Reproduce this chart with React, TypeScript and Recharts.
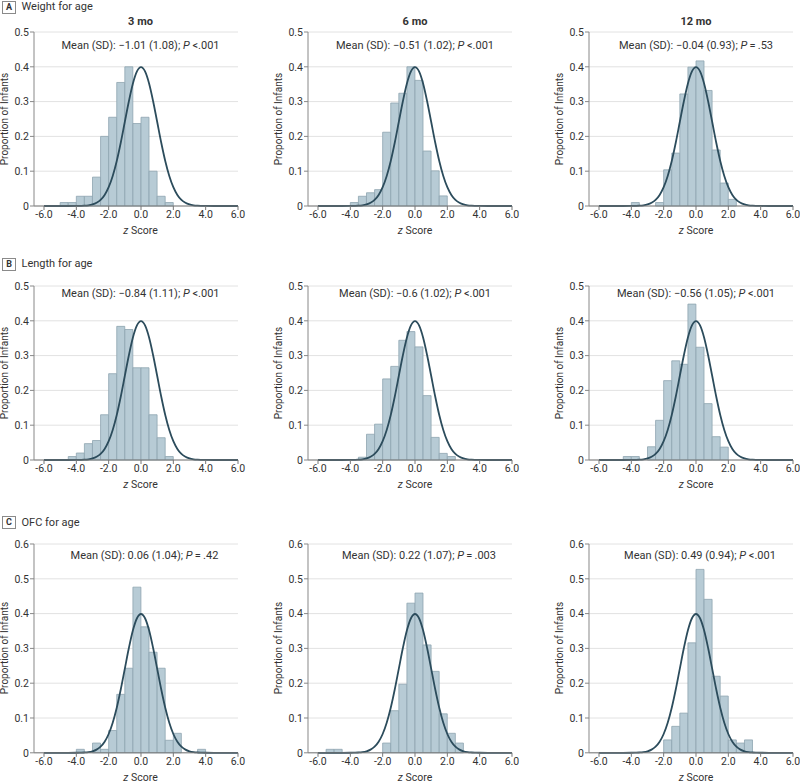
import React from 'react';
import { ComposedChart, Bar, Line, XAxis, YAxis, CartesianGrid } from 'recharts';

// z-score bins, 0.5 wide, from -6.0 to 6.0 (value = start of bin)
const BIN_STARTS = [
    -6, -5.5, -5, -4.5, -4, -3.5, -3, -2.5, -2, -1.5, -1, -0.5,
    0, 0.5, 1, 1.5, 2, 2.5, 3, 3.5, 4, 4.5, 5, 5.5,
];
const X_TICKS = [-6, -4, -2, 0, 2, 4, 6];
const Y_TICKS_AB = [0, 0.1, 0.2, 0.3, 0.4, 0.5];
const Y_TICKS_C = [0, 0.1, 0.2, 0.3, 0.4, 0.5, 0.6];

// proportion of infants per bin
const WEIGHT_3MO = [0, 0, 0.01, 0.01, 0.028, 0.028, 0.083, 0.2, 0.255, 0.355, 0.4, 0.237, 0.255, 0.1, 0.028, 0.01, 0, 0, 0, 0, 0, 0, 0, 0];
const WEIGHT_6MO = [0, 0, 0, 0, 0.01, 0.028, 0.038, 0.047, 0.212, 0.296, 0.324, 0.4, 0.361, 0.158, 0.101, 0.029, 0, 0, 0, 0, 0, 0, 0, 0];
const WEIGHT_12MO = [0, 0, 0, 0, 0.01, 0, 0, 0.01, 0.104, 0.152, 0.322, 0.399, 0.417, 0.332, 0.161, 0.066, 0.019, 0, 0, 0, 0, 0, 0, 0];
const LENGTH_3MO = [0, 0, 0, 0.01, 0.02, 0.047, 0.056, 0.13, 0.248, 0.384, 0.375, 0.265, 0.265, 0.13, 0.064, 0.01, 0, 0, 0, 0, 0, 0, 0, 0];
const LENGTH_6MO = [0, 0, 0, 0, 0, 0.008, 0.074, 0.103, 0.233, 0.269, 0.344, 0.369, 0.325, 0.185, 0.065, 0.019, 0.01, 0, 0, 0, 0, 0, 0, 0];
const LENGTH_12MO = [0, 0, 0, 0.01, 0.01, 0, 0.038, 0.114, 0.228, 0.285, 0.275, 0.448, 0.324, 0.162, 0.067, 0.037, 0, 0, 0, 0, 0, 0, 0, 0];
const OFC_3MO = [0, 0, 0, 0, 0.01, 0, 0.028, 0.01, 0.064, 0.168, 0.243, 0.476, 0.362, 0.289, 0.243, 0.036, 0.056, 0, 0, 0.01, 0, 0, 0, 0];
const OFC_6MO = [0, 0.01, 0.01, 0, 0, 0, 0, 0, 0.028, 0.121, 0.197, 0.43, 0.459, 0.31, 0.234, 0.112, 0.056, 0.028, 0, 0, 0, 0, 0, 0];
const OFC_12MO = [0, 0, 0, 0, 0, 0, 0, 0, 0.037, 0.076, 0.114, 0.316, 0.527, 0.441, 0.22, 0.163, 0.037, 0.028, 0.037, 0, 0, 0, 0, 0];

// reference standard normal curve
const CURVE_X = [-6, -5, -4, -3.75, -3.5, -3.25, -3, -2.75, -2.5, -2.25, -2, -1.75, -1.5, -1.25, -1, -0.75, -0.5, -0.25,
    0, 0.25, 0.5, 0.75, 1, 1.25, 1.5, 1.75, 2, 2.25, 2.5, 2.75, 3, 3.25, 3.5, 3.75, 4, 5, 6];
const CURVE_Y = [0, 0, 0.0001, 0.0004, 0.0009, 0.002, 0.0044, 0.0091, 0.0175, 0.0317, 0.054, 0.0863, 0.1295, 0.1826, 0.242, 0.3011, 0.3521, 0.3867,
    0.3989, 0.3867, 0.3521, 0.3011, 0.242, 0.1826, 0.1295, 0.0863, 0.054, 0.0317, 0.0175, 0.0091, 0.0044, 0.002, 0.0009, 0.0004, 0.0001, 0, 0];

const AGES = ['3 mo', '6 mo', '12 mo'];

const FONT = 'Roboto, "Noto Sans", sans-serif';
const TEXT = '#333';
const BAR_FILL = '#b7cbd5';
const BAR_STROKE = '#8ea5b0';
const CURVE_COLOR = '#2c4c5c';

const COL_LEFT = [33.5, 308, 589];
const ROW_TOP = [32.3, 285.7, 544];
const PLOT_W = 204;
const PAD = 10;
const PX_PER_TENTH = 34.8;
const Y_AXIS_W = 34;
const M_TOP = 10;
const M_RIGHT = 8;
const X_AXIS_H = 24;

const ROWS = [
    {
        letter: 'A', title: 'Weight for age', yMax: 0.5, yTicks: Y_TICKS_AB, meanY: 46, meanDx: 0,
        panels: [
            { values: WEIGHT_3MO, stat: '\u22121.01 (1.08)', p: ' <.001' },
            { values: WEIGHT_6MO, stat: '\u22120.51 (1.02)', p: ' <.001' },
            { values: WEIGHT_12MO, stat: '\u22120.04 (0.93)', p: '\u2009=\u2009.53' },
        ],
    },
    {
        letter: 'B', title: 'Length for age', yMax: 0.5, yTicks: Y_TICKS_AB, meanY: 294.3, meanDx: 0,
        panels: [
            { values: LENGTH_3MO, stat: '\u22120.84 (1.11)', p: ' <.001' },
            { values: LENGTH_6MO, stat: '\u22120.6 (1.02)', p: ' <.001' },
            { values: LENGTH_12MO, stat: '\u22120.56 (1.05)', p: ' <.001' },
        ],
    },
    {
        letter: 'C', title: 'OFC for age', yMax: 0.6, yTicks: Y_TICKS_C, meanY: 556, meanDx: 4,
        panels: [
            { values: OFC_3MO, stat: '0.06 (1.04)', p: '\u2009=\u2009.42' },
            { values: OFC_6MO, stat: '0.22 (1.07)', p: '\u2009=\u2009.003' },
            { values: OFC_12MO, stat: '0.49 (0.94)', p: ' <.001' },
        ],
    },
];

const curveData = CURVE_X.map((x, i) => ({ x, y: CURVE_Y[i] }));

const abs = (left: number, top: number, extra: React.CSSProperties = {}): React.CSSProperties => ({
    position: 'absolute', left, top, fontFamily: FONT, color: TEXT, whiteSpace: 'nowrap', ...extra,
});

function Histogram({ left, top, yMax, yTicks, values }: { left: number; top: number; yMax: number; yTicks: number[]; values: number[] }) {
    const plotH = yMax * 10 * PX_PER_TENTH;
    const data = BIN_STARTS.map((b, i) => ({ bin: b, v: values[i] > 0 ? values[i] : null }));
    const tick = { fontSize: 10.5, fill: TEXT, fontFamily: FONT };
    return (
        <div style={{ position: 'absolute', left: left - Y_AXIS_W, top: top - M_TOP }}>
            <ComposedChart
                width={Y_AXIS_W + PLOT_W + M_RIGHT}
                height={M_TOP + plotH + X_AXIS_H}
                data={data}
                margin={{ top: M_TOP, right: M_RIGHT, left: 0, bottom: 0 }}
                barCategoryGap={0}
                barGap={0}
            >
                <CartesianGrid vertical={false} stroke="#e2e2e2" xAxisId="num" />
                <XAxis
                    xAxisId="num"
                    dataKey="x"
                    type="number"
                    domain={[-6, 6]}
                    ticks={X_TICKS}
                    padding={{ left: PAD, right: 0 }}
                    height={X_AXIS_H}
                    tick={tick}
                    tickSize={4}
                    tickMargin={1}
                    stroke="#777"
                    tickFormatter={(v: number) => v.toFixed(1)}
                />
                <XAxis xAxisId="cat" dataKey="bin" type="category" orientation="top" height={0} hide padding={{ left: PAD, right: 0 }} />
                <YAxis
                    type="number"
                    domain={[0, yMax]}
                    ticks={yTicks}
                    width={Y_AXIS_W}
                    tick={tick}
                    tickSize={4}
                    tickMargin={1}
                    stroke="#888"
                    tickFormatter={(v: number) => (v === 0 ? '0' : v.toFixed(1))}
                />
                <Bar xAxisId="cat" dataKey="v" fill={BAR_FILL} stroke={BAR_STROKE} strokeWidth={0.8} isAnimationActive={false} />
                <Line
                    xAxisId="num"
                    data={curveData}
                    dataKey="y"
                    type="monotone"
                    stroke={CURVE_COLOR}
                    strokeWidth={1.8}
                    dot={false}
                    activeDot={false}
                    isAnimationActive={false}
                />
            </ComposedChart>
        </div>
    );
}

export default function App() {
    const zeroX = (c: number) => COL_LEFT[c] + PAD + 6 * ((PLOT_W - PAD) / 12);
    return (
        <div style={{ position: 'absolute', left: 0, top: 0, width: 800, height: 784, background: '#fff', overflow: 'hidden' }}>
            {ROWS.map((row, r) => {
                const plotH = row.yMax * 10 * PX_PER_TENTH;
                const labelY = [7.3, 264, 522.5][r];
                return (
                    <React.Fragment key={row.letter}>
                        <div style={abs(2, labelY - 6.5, {
                            width: 12, height: 11, border: '1px solid #8a8a8a', fontSize: 9, fontWeight: 700,
                            lineHeight: '11px', textAlign: 'center',
                        })}>{row.letter}</div>
                        <div style={abs(21.5, labelY - 7, { fontSize: 11, lineHeight: '14px' })}>{row.title}</div>
                        {row.panels.map((p, c) => {
                            const cx = zeroX(c);
                            const axisY = ROW_TOP[r] + plotH;
                            return (
                                <React.Fragment key={c}>
                                    {r === 0 && (
                                        <div style={abs(cx - 40, 14.5, { width: 80, textAlign: 'center', fontSize: 11, fontWeight: 700, lineHeight: '14px' })}>
                                            {AGES[c]}
                                        </div>
                                    )}
                                    <Histogram left={COL_LEFT[c]} top={ROW_TOP[r]} yMax={row.yMax} yTicks={row.yTicks} values={p.values} />
                                    <div style={abs(cx - 100 + row.meanDx, row.meanY - 7, { width: 200, textAlign: 'center', fontSize: 11, lineHeight: '14px' })}>
                                        Mean (SD): {p.stat}; <i>P</i>{p.p}
                                    </div>
                                    <div style={abs(COL_LEFT[c] - 29 - 60, ROW_TOP[r] + plotH / 2 - 7, {
                                        width: 120, textAlign: 'center', fontSize: 10, lineHeight: '14px', transform: 'rotate(-90deg)',
                                    })}>
                                        Proportion of Infants
                                    </div>
                                    <div style={abs(cx - 40, axisY + 18, { width: 80, textAlign: 'center', fontSize: 10.5, lineHeight: '14px' })}>
                                        <i>z</i> Score
                                    </div>
                                </React.Fragment>
                            );
                        })}
                    </React.Fragment>
                );
            })}
        </div>
    );
}
